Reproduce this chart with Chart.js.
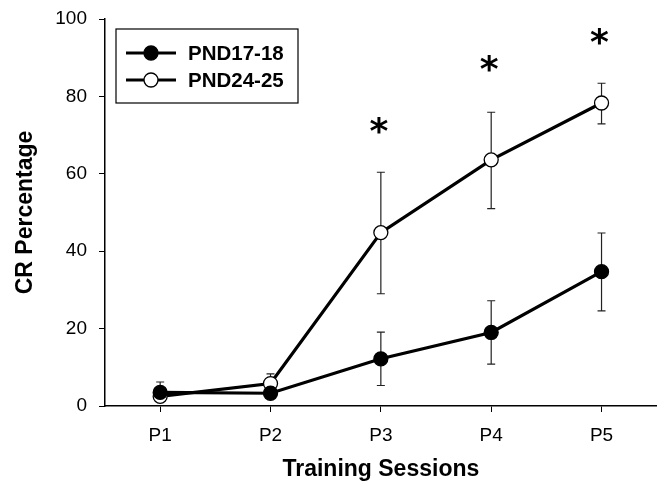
<!DOCTYPE html>
<html>
<head>
<meta charset="utf-8">
<script src="https://cdn.jsdelivr.net/npm/chart.js@4.4.1/dist/chart.umd.min.js"></script>
<style>
  html, body { margin: 0; padding: 0; background: #fff; }
  #wrap { width: 665px; height: 487px; }
</style>
</head>
<body>
<div id="wrap"><canvas id="chart" width="665" height="487"></canvas></div>
<script>
// data
const sessions = ['P1', 'P2', 'P3', 'P4', 'P5']
const yTicks = [0, 20, 40, 60, 80, 100]

const pnd1718 = [3.5, 3.3, 12.2, 19.0, 34.7]
const pnd1718Hi = [null, null, 19.1, 27.2, 44.7]
const pnd1718Lo = [null, null, 5.3, 10.8, 24.6]

const pnd2425 = [2.5, 5.8, 44.8, 63.6, 78.3]
const pnd2425Hi = [6.2, 8.3, 60.4, 75.9, 83.4]
const pnd2425Lo = [null, null, 29.0, 51.0, 72.9]

// significance markers (y value of the star)
const starValues = [null, null, 72, 88, 95]

const FONT = '"Liberation Sans", Arial, sans-serif'

// error bars sit under the markers
const errorBars = {
    id: 'errorBars',
    beforeDatasetsDraw(chart) {
        const ctx = chart.ctx
        const x = chart.scales.x, y = chart.scales.y
        ctx.save()
        ctx.strokeStyle = '#222'
        ctx.lineWidth = 1.2
        chart.data.datasets.forEach(ds => {
            ds.data.forEach((v, i) => {
                const px = x.getPixelForValue(i)
                const py = y.getPixelForValue(v)
                const ends = [ds.errHi[i], ds.errLo[i]]
                ends.forEach(e => {
                    if (e == null) return
                    const pe = y.getPixelForValue(e)
                    ctx.beginPath()
                    ctx.moveTo(px, py)
                    ctx.lineTo(px, pe)
                    ctx.moveTo(px - 4, pe)
                    ctx.lineTo(px + 4, pe)
                    ctx.stroke()
                })
            })
        })
        ctx.restore()
    }
}

const stars = {
    id: 'stars',
    afterDraw(chart) {
        const ctx = chart.ctx
        const x = chart.scales.x, y = chart.scales.y
        ctx.save()
        ctx.fillStyle = '#000'
        ctx.font = 'bold 36px "DejaVu Sans", sans-serif'
        ctx.textAlign = 'center'
        ctx.textBaseline = 'middle'
        starValues.forEach((v, i) => {
            if (v == null) return
            ctx.fillText('*', x.getPixelForValue(i) - 2, y.getPixelForValue(v) + 6)
        })
        ctx.restore()
    }
}

const boxLegend = {
    id: 'boxLegend',
    afterDraw(chart) {
        const ctx = chart.ctx
        const left = 116, top = 29, w = 182, h = 74
        ctx.save()
        ctx.strokeStyle = '#000'
        ctx.lineWidth = 1.2
        ctx.fillStyle = '#fff'
        ctx.fillRect(left, top, w, h)
        ctx.strokeRect(left, top, w, h)
        chart.data.datasets.forEach((ds, i) => {
            const cy = top + 24 + i * 27
            ctx.beginPath()
            ctx.lineWidth = 3
            ctx.moveTo(left + 10, cy)
            ctx.lineTo(left + 60, cy)
            ctx.stroke()
            ctx.beginPath()
            ctx.arc(left + 35, cy, 7, 0, Math.PI * 2)
            ctx.fillStyle = ds.pointBackgroundColor
            ctx.fill()
            ctx.lineWidth = 1.3
            ctx.stroke()
            ctx.fillStyle = '#000'
            ctx.font = 'bold 20.5px ' + FONT
            ctx.textBaseline = 'middle'
            ctx.fillText(ds.label, left + 72, cy + 1)
        })
        ctx.restore()
    }
}

new Chart(document.getElementById('chart').getContext('2d'), {
    type: 'line',
    data: {
        labels: sessions,
        datasets: [{
            label: 'PND17-18',
            data: pnd1718,
            errHi: pnd1718Hi,
            errLo: pnd1718Lo,
            borderColor: '#000',
            borderWidth: 3.2,
            pointRadius: 7,
            pointBorderWidth: 1.3,
            pointBackgroundColor: '#000',
            pointBorderColor: '#000'
        }, {
            label: 'PND24-25',
            data: pnd2425,
            errHi: pnd2425Hi,
            errLo: pnd2425Lo,
            borderColor: '#000',
            borderWidth: 3.2,
            pointRadius: 7,
            pointBorderWidth: 1.3,
            pointBackgroundColor: '#fff',
            pointBorderColor: '#000'
        }]
    },
    options: {
        responsive: false,
        animation: false,
        layout: { padding: { top: 19, right: 6, left: 0, bottom: 0 } },
        plugins: { legend: { display: false }, tooltip: { enabled: false } },
        scales: {
            x: {
                offset: true,
                grid: { drawOnChartArea: false, drawTicks: true, tickLength: 6, color: '#000' },
                border: { display: true, color: '#000', width: 1.5 },
                ticks: { color: '#000', font: { family: FONT, size: 19 }, padding: 12 },
                title: {
                    display: true, text: 'Training Sessions', color: '#000',
                    font: { family: FONT, size: 23, weight: 'bold' }, padding: { top: 10 }
                },
                afterFit: s => { s.height = 81 }
            },
            y: {
                min: 0, max: 100,
                afterBuildTicks: s => { s.ticks = yTicks.map(v => ({ value: v })) },
                grid: { drawOnChartArea: false, drawTicks: true, tickLength: 6, color: '#000' },
                border: { display: true, color: '#000', width: 1.5 },
                ticks: { color: '#000', font: { family: FONT, size: 19 }, padding: 12 },
                title: {
                    display: true, text: 'CR Percentage', color: '#000',
                    font: { family: FONT, size: 23, weight: 'bold' }, padding: { top: 12, bottom: 4 }
                },
                afterFit: s => { s.width = 105; s.paddingTop = 0; s.paddingBottom = 0 }
            }
        }
    },
    plugins: [errorBars, stars, boxLegend]
})
</script>
</body>
</html>
